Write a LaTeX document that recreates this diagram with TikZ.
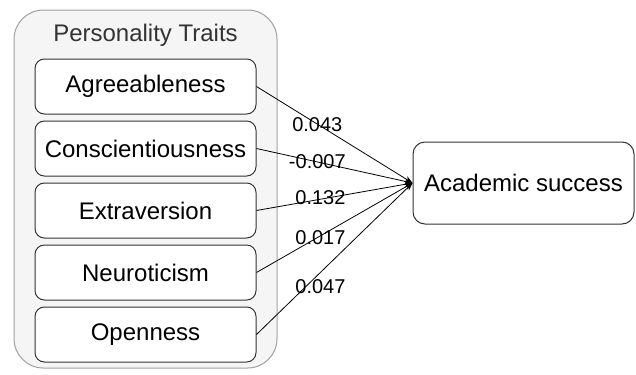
\documentclass[tikz,border=0pt]{standalone}
\usepackage{fontspec}
\setmainfont{Liberation Sans}
\usetikzlibrary{arrows.meta}
\tikzset{>={Stealth[width=4.5pt,length=6pt]}}
\definecolor{groupfill}{HTML}{F5F5F5}
\definecolor{groupline}{HTML}{A0A0A0}
\definecolor{titletext}{HTML}{333333}
\tikzset{
  group/.style={draw=groupline, fill=groupfill, line width=0.75pt, rounded corners=22pt,
    minimum width=197.25pt, minimum height=268.5pt},
  trait/.style={draw=black!80, fill=white, line width=0.75pt, rounded corners=7pt,
    minimum width=165.75pt, minimum height=41.25pt, font=\fontsize{18}{21}\selectfont},
  outcome/.style={trait, minimum height=61.5pt, rounded corners=9pt},
  coef/.style={font=\fontsize{15}{17}\selectfont, inner sep=0pt}
}
\begin{document}
\begin{tikzpicture}[x=0.75pt,y=-0.75pt]
  \useasboundingbox (0,0) rectangle (636,375);

  \newcommand\Xt{145.5};
  \newcommand\Yt{62};

  % group of traits
  \node[group] (traits) at (\Xt, 189) {};
  \node[font=\fontsize{18}{21}\selectfont, text=titletext] (title) at (\Xt, 35.5) {Personality Traits};

  \node[trait] (agr) at (\Xt, 86.5+0*\Yt) {Agreeableness};
  \node[trait] (con) at (\Xt, 86.5+1*\Yt) {Conscientiousness};
  \node[trait] (ext) at (\Xt, 86.5+2*\Yt) {Extraversion};
  \node[trait] (neu) at (\Xt, 86.5+3*\Yt) {Neuroticism};
  \node[trait] (ope) at (\Xt, 86.5+4*\Yt) {Openness};

  % outcome
  \node[outcome] (acad) at (523.5, 183) {Academic success};

  \draw[->, line width=0.6pt] (agr.east) -- node[coef, pos=0.39]{0.043} (acad.west); % A
  \draw[->, line width=0.6pt] (con.east) -- node[coef, pos=0.39]{-0.007} (acad.west); % C
  \draw[->, line width=0.6pt] (ext.east) -- node[coef, pos=0.41, yshift=1pt]{0.132} (acad.west); % E
  \draw[->, line width=0.6pt] (neu.east) -- node[coef, pos=0.41, yshift=-1.5pt]{0.017} (acad.west); % N
  \draw[->, line width=0.6pt] (ope.east) -- node[coef, pos=0.29, xshift=14pt, yshift=3pt]{0.047} (acad.west); % O

\end{tikzpicture}
\end{document}
